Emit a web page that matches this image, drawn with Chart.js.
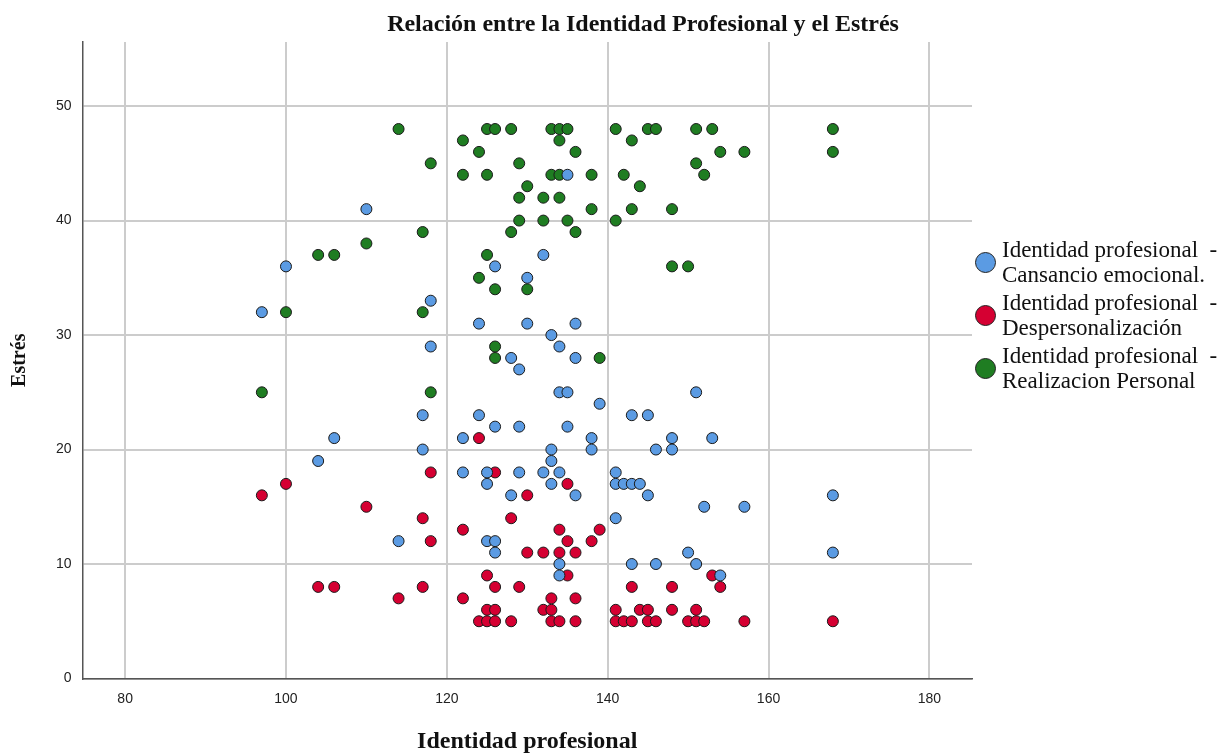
<!DOCTYPE html>
<html lang="es">
<head>
<meta charset="utf-8">
<title>Relación entre la Identidad Profesional y el Estrés</title>
<script src="https://cdn.jsdelivr.net/npm/chart.js@4.4.1/dist/chart.umd.min.js"></script>
<style>
    body { margin: 0; background: #fff; }
    #wrap { position: relative; width: 1229px; height: 754px; }
    #legend { position: absolute; left: 975px; top: 237px; font-family: "Liberation Serif", serif; font-size: 23px; line-height: 25px; color: #111; white-space: pre; }
    .legend-item { display: flex; align-items: center; margin-bottom: 3px; }
    .legend-dot { width: 19px; height: 19px; border-radius: 50%; border: 1.5px solid #222; margin-right: 6px; flex: none; }
</style>
</head>
<body>
<div id="wrap">
    <canvas id="myScatter" width="1229" height="754"></canvas>
    <div id="legend"></div>
</div>
<script>
const chartTitle = 'Relación entre la Identidad Profesional y el Estrés';
const xTitle = 'Identidad profesional';
const yTitle = 'Estrés';

const xTicks = [80, 100, 120, 140, 160, 180];
const yTicks = [0, 10, 20, 30, 40, 50];

const seriesLabels = [
    ['Identidad profesional  -', 'Cansancio emocional.'],
    ['Identidad profesional  -', 'Despersonalización'],
    ['Identidad profesional  -', 'Realizacion Personal']
];
const seriesColors = ['#5b9be3', '#d50032', '#1f7d22'];

// Cansancio emocional: [identidad, estres]
const cansancio = [
    [110, 41], [135, 44], [132, 37], [100, 36], [126, 36], [130, 35], [97, 32], [118, 33],
    [124, 31], [130, 31], [136, 31], [133, 30], [118, 29], [134, 29], [128, 28], [136, 28],
    [129, 27], [134, 25], [135, 25], [151, 25], [139, 24], [117, 23], [124, 23], [143, 23],
    [145, 23], [126, 22], [129, 22], [135, 22], [106, 21], [122, 21], [138, 21], [148, 21],
    [153, 21], [117, 20], [133, 20], [138, 20], [146, 20], [148, 20], [104, 19], [133, 19],
    [122, 18], [125, 18], [129, 18], [132, 18], [134, 18], [141, 18], [125, 17], [133, 17],
    [141, 17], [142, 17], [143, 17], [144, 17], [128, 16], [136, 16], [145, 16], [168, 16],
    [152, 15], [157, 15], [141, 14], [114, 12], [125, 12], [126, 12], [126, 11], [150, 11],
    [168, 11], [134, 10], [143, 10], [146, 10], [151, 10], [134, 9], [154, 9]
];

// Despersonalización
const despersonalizacion = [
    [124, 21], [118, 18], [126, 18], [100, 17], [135, 17], [97, 16], [130, 16], [110, 15],
    [117, 14], [128, 14], [122, 13], [134, 13], [139, 13], [118, 12], [135, 12], [138, 12],
    [130, 11], [132, 11], [134, 11], [136, 11], [125, 9], [135, 9], [153, 9], [104, 8],
    [106, 8], [117, 8], [126, 8], [129, 8], [143, 8], [148, 8], [154, 8], [114, 7],
    [122, 7], [133, 7], [136, 7], [125, 6], [126, 6], [132, 6], [133, 6], [141, 6],
    [144, 6], [145, 6], [148, 6], [151, 6], [124, 5], [125, 5], [126, 5], [128, 5],
    [133, 5], [134, 5], [136, 5], [141, 5], [142, 5], [143, 5], [145, 5], [146, 5],
    [150, 5], [151, 5], [152, 5], [157, 5], [168, 5]
];

// Realizacion personal
const realizacion = [
    [114, 48], [125, 48], [126, 48], [128, 48], [133, 48], [134, 48], [135, 48], [141, 48],
    [145, 48], [146, 48], [151, 48], [153, 48], [168, 48], [122, 47], [134, 47], [143, 47],
    [124, 46], [136, 46], [154, 46], [157, 46], [168, 46], [118, 45], [129, 45], [151, 45],
    [122, 44], [125, 44], [133, 44], [134, 44], [138, 44], [142, 44], [152, 44], [130, 43],
    [144, 43], [129, 42], [132, 42], [134, 42], [138, 41], [143, 41], [148, 41], [129, 40],
    [132, 40], [135, 40], [141, 40], [117, 39], [128, 39], [136, 39], [110, 38], [104, 37],
    [106, 37], [125, 37], [148, 36], [150, 36], [124, 35], [126, 34], [130, 34], [100, 32],
    [117, 32], [126, 29], [126, 28], [139, 28], [97, 25], [118, 25]
];

const allSeries = [cansancio, despersonalizacion, realizacion];

/* legend */
const legendBox = document.getElementById('legend');
seriesLabels.forEach((lines, i) => {
    const item = document.createElement('div');
    item.className = 'legend-item';
    const dot = document.createElement('span');
    dot.className = 'legend-dot';
    dot.style.background = seriesColors[i];
    const text = document.createElement('div');
    text.textContent = lines.join('\n');
    item.appendChild(dot);
    item.appendChild(text);
    legendBox.appendChild(item);
});

// titulo del grafico
const titlePlugin = {
    id: 'topTitle',
    afterDraw(chart) {
        const ctx = chart.ctx;
        ctx.save();
        ctx.font = 'bold 24px "Liberation Serif"';
        ctx.fillStyle = '#111';
        ctx.textAlign = 'center';
        ctx.textBaseline = 'alphabetic';
        ctx.fillText(chartTitle, 643, 31);
        ctx.restore();
    }
};

const ctx = document.getElementById('myScatter').getContext('2d');

const myScatter = new Chart(ctx, {
    type: 'scatter',
    data: {
        datasets: allSeries.map((points, i) => ({
            label: seriesLabels[i].join(' '),
            data: points.map(p => ({ x: p[0], y: p[1] })),
            backgroundColor: seriesColors[i],
            borderColor: '#1a1a1a',
            borderWidth: 1,
            pointRadius: 5.5,
            pointHoverRadius: 5.5
        }))
    },
    options: {
        responsive: false,
        animation: false,
        layout: {
            padding: { top: 42, right: 257, left: 0, bottom: 0 }
        },
        plugins: {
            legend: { display: false },
            tooltip: { enabled: false }
        },
        scales: {
            x: {
                type: 'linear',
                min: 74.7,
                max: 185.3,
                afterBuildTicks: scale => { scale.ticks = xTicks.map(v => ({ value: v })); },
                afterFit: scale => { scale.height = 75.5; },
                grid: { color: '#cccccc', lineWidth: 2, drawTicks: false },
                border: { color: '#555', width: 1.5 },
                ticks: {
                    padding: 12,
                    color: '#222',
                    font: { family: 'Liberation Sans', size: 14 }
                },
                title: {
                    display: true,
                    text: xTitle,
                    color: '#111',
                    font: { family: 'Liberation Serif', size: 24, weight: 'bold' },
                    padding: { top: 0, bottom: -2 }
                }
            },
            y: {
                min: 0,
                max: 55.6,
                afterBuildTicks: scale => { scale.ticks = yTicks.map(v => ({ value: v })); },
                afterFit: scale => { scale.width = 82.5; },
                grid: { color: '#cccccc', lineWidth: 2, drawTicks: false },
                border: { color: '#555', width: 1.5 },
                ticks: {
                    padding: 11,
                    color: '#222',
                    font: { family: 'Liberation Sans', size: 14 }
                },
                title: {
                    display: true,
                    text: yTitle,
                    color: '#111',
                    font: { family: 'Liberation Serif', size: 20, weight: 'bold' },
                    padding: { top: 8, bottom: 0 }
                }
            }
        }
    },
    plugins: [titlePlugin]
});
</script>
</body>
</html>
